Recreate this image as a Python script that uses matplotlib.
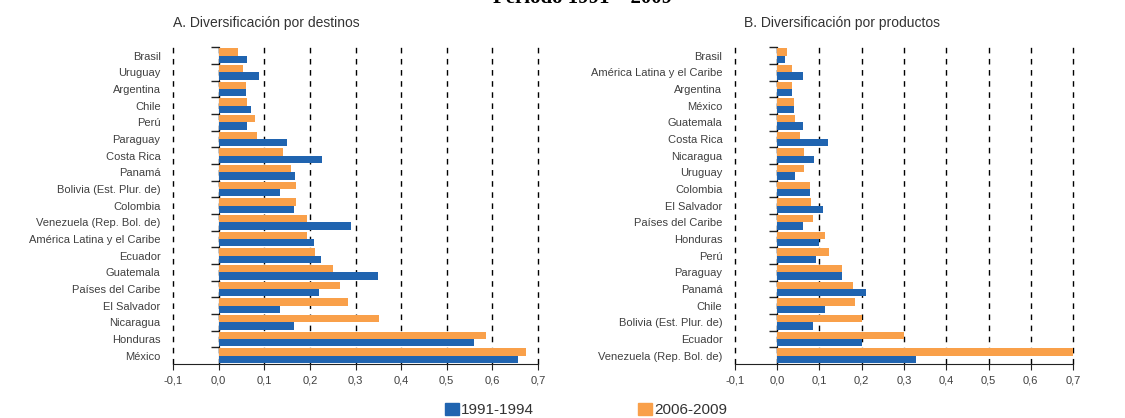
import matplotlib.pyplot as plt
from matplotlib.patches import Patch
from matplotlib.ticker import FuncFormatter

plt.rcParams['font.family'] = ['Liberation Sans', 'DejaVu Sans']

# A. Diversificacion por destinos
destinos = ["Brasil", "Uruguay", "Argentina", "Chile", "Perú", "Paraguay", "Costa Rica",
            "Panamá", "Bolivia (Est. Plur. de)", "Colombia", "Venezuela (Rep. Bol. de)",
            "América Latina y el Caribe", "Ecuador", "Guatemala", "Países del Caribe",
            "El Salvador", "Nicaragua", "Honduras", "México"]
dest_1991 = [0.062, 0.088, 0.059, 0.071, 0.062, 0.149, 0.227, 0.168, 0.135, 0.166,
             0.291, 0.208, 0.224, 0.350, 0.219, 0.135, 0.166, 0.560, 0.656]
dest_2006 = [0.043, 0.054, 0.059, 0.062, 0.079, 0.085, 0.141, 0.159, 0.169, 0.169,
             0.194, 0.194, 0.211, 0.250, 0.266, 0.283, 0.352, 0.585, 0.674]

# B. Diversificacion por productos
productos = ["Brasil", "América Latina y el Caribe", "Argentina", "México", "Guatemala",
             "Costa Rica", "Nicaragua", "Uruguay", "Colombia", "El Salvador",
             "Países del Caribe", "Honduras", "Perú", "Paraguay", "Panamá", "Chile",
             "Bolivia (Est. Plur. de)", "Ecuador", "Venezuela (Rep. Bol. de)"]
prod_1991 = [0.019, 0.062, 0.036, 0.039, 0.062, 0.121, 0.086, 0.042, 0.077, 0.109,
             0.062, 0.099, 0.092, 0.154, 0.210, 0.114, 0.084, 0.200, 0.328]
prod_2006 = [0.022, 0.036, 0.036, 0.039, 0.042, 0.055, 0.064, 0.064, 0.077, 0.081,
             0.084, 0.114, 0.122, 0.154, 0.179, 0.185, 0.200, 0.300, 0.700]

x_ticks = [-0.1, 0.0, 0.1, 0.2, 0.3, 0.4, 0.5, 0.6, 0.7]

AZUL = "#2064b0"
NARANJA = "#f9a04a"
TEXTO = "#404040"

fig = plt.figure(figsize=(11.25, 4.18), dpi=100)
ax_a = fig.add_axes([0.1538, 0.1292, 0.3244, 0.7575])
ax_b = fig.add_axes([0.6533, 0.1292, 0.3005, 0.7575])


def draw_panel(ax, labels, v1991, v2006):
    n = len(labels)
    pos = list(range(n))
    h = 0.44
    ax.barh([p - h / 2 for p in pos], v2006, height=h, color=NARANJA, zorder=3)
    ax.barh([p + h / 2 for p in pos], v1991, height=h, color=AZUL, zorder=3)
    ax.set_xlim(-0.1, 0.7)
    ax.set_ylim(n - 0.5, -0.5)
    ax.set_yticks(pos)
    ax.set_yticklabels(labels, fontsize=8, color=TEXTO)
    ax.tick_params(axis='y', length=0, pad=9)
    ax.set_xticks(x_ticks)
    ax.xaxis.set_major_formatter(FuncFormatter(lambda v, p: f"{v:.1f}".replace(".", ",")))
    ax.tick_params(axis='x', labelsize=8, labelcolor=TEXTO, length=4, direction='out',
                   color="#222222", pad=4)
    for s in ['left', 'right', 'top']:
        ax.spines[s].set_visible(False)
    ax.spines['bottom'].set_color("#222222")
    ax.grid(axis='x', color='black', linestyle=(0, (4, 4)), linewidth=1, zorder=0)
    for gl in ax.get_xgridlines():
        gl.set_clip_on(False)
    ax.set_axisbelow(True)
    # eje vertical en x=0 con marcas entre categorias
    frac = (0 - (-0.1)) / 0.8
    sec = ax.secondary_yaxis(frac)
    sec.set_yticks([p - 0.5 for p in range(n)])
    sec.set_yticklabels([])
    sec.tick_params(length=6, width=1, color="#222222")
    sec.spines['left'].set_color("#222222")


draw_panel(ax_a, destinos, dest_1991, dest_2006)
draw_panel(ax_b, productos, prod_1991, prod_2006)

fig.text(0.237, 0.945, "A. Diversificación por destinos", fontsize=10, color="#333333",
         ha='center', va='center')
fig.text(0.748, 0.945, "B. Diversificación por productos", fontsize=10, color="#333333",
         ha='center', va='center')
fig.text(0.518, 1.005, "Período 1991 – 2009", fontsize=15, fontweight='bold',
         family='Liberation Serif', ha='center', va='center', color='black')

handles = [Patch(color=AZUL, label="1991-1994"), Patch(color=NARANJA, label="2006-2009")]
fig.legend(handles=handles, loc='center', bbox_to_anchor=(0.521, 0.019), ncol=2,
           frameon=False, fontsize=11, handlelength=0.9, handleheight=0.9,
           handletextpad=0.15, columnspacing=6.8, labelcolor="#333333")

fig.savefig("out.png", dpi=100)
